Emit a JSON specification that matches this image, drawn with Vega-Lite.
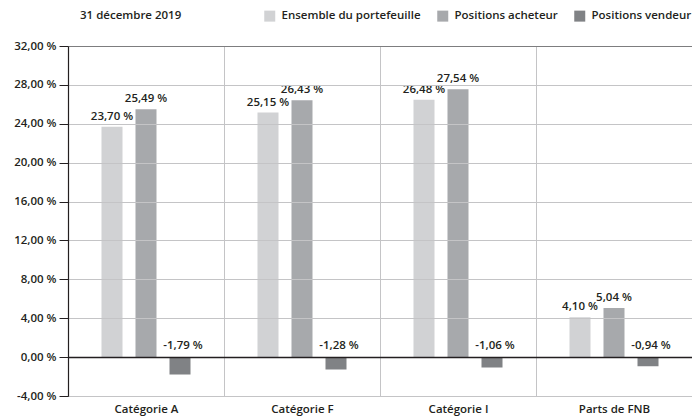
{
  "$schema": "https://vega.github.io/schema/vega-lite/v6.json",
  "width": 624,
  "height": 350,
  "autosize": {"type": "none"},
  "padding": {"left": 68, "top": 46, "right": 0, "bottom": 23},
  "background": "white",
  "config": {
    "view": {"stroke": null},
    "font": "Open Sans",
    "text": {"font": "Open Sans"}
  },
  "data": {
    "values": [
      {"cat": "Catégorie A", "series": "Ensemble du portefeuille", "value": 23.70},
      {"cat": "Catégorie A", "series": "Positions acheteur", "value": 25.49},
      {"cat": "Catégorie A", "series": "Positions vendeur", "value": -1.79},
      {"cat": "Catégorie F", "series": "Ensemble du portefeuille", "value": 25.15},
      {"cat": "Catégorie F", "series": "Positions acheteur", "value": 26.43},
      {"cat": "Catégorie F", "series": "Positions vendeur", "value": -1.28},
      {"cat": "Catégorie I", "series": "Ensemble du portefeuille", "value": 26.48},
      {"cat": "Catégorie I", "series": "Positions acheteur", "value": 27.54},
      {"cat": "Catégorie I", "series": "Positions vendeur", "value": -1.06},
      {"cat": "Parts de FNB", "series": "Ensemble du portefeuille", "value": 4.10},
      {"cat": "Parts de FNB", "series": "Positions acheteur", "value": 5.04},
      {"cat": "Parts de FNB", "series": "Positions vendeur", "value": -0.94}
    ]
  },
  "transform": [
    {"calculate": "replace(replace(format(datum.value, '.2f'), '.', ','), '\u2212', '-') + ' %'", "as": "label"}
  ],
  "encoding": {
    "x": {
      "field": "cat",
      "type": "nominal",
      "sort": null,
      "scale": {"paddingInner": 0, "paddingOuter": 0},
      "axis": {
        "title": null,
        "labelAngle": 0,
        "ticks": false,
        "tickBand": "extent",
        "grid": true,
        "gridColor": "#c4c4c6",
        "gridWidth": 1,
        "domain": true,
        "domainColor": "#58585a",
        "domainWidth": 1.2,
        "labelFont": "Open Sans",
        "labelFontWeight": 600,
        "labelFontSize": 11.5,
        "labelColor": "#231f20",
        "labelPadding": 7
      }
    },
    "xOffset": {
      "field": "series",
      "type": "nominal",
      "sort": ["Ensemble du portefeuille", "Positions acheteur", "Positions vendeur"],
      "scale": {"paddingInner": 0.382, "paddingOuter": 0.985}
    }
  },
  "layer": [
    {
      "mark": {"type": "bar"},
      "encoding": {
        "y": {
          "field": "value",
          "type": "quantitative",
          "scale": {"domain": [-4, 32], "nice": false, "zero": false},
          "axis": {
            "title": null,
            "values": [-4, 0, 4, 8, 12, 16, 20, 24, 28, 32],
            "tickCount": 20,
            "labelOverlap": false,
            "labelExpr": "replace(replace(format(datum.value, '.2f'), '.', ','), '\u2212', '-') + ' %'",
            "labelFont": "Open Sans",
            "labelFontWeight": 600,
            "labelFontSize": 11.5,
            "labelColor": "#231f20",
            "labelPadding": 3,
            "tickSize": 9,
            "tickColor": "#231f20",
            "domainColor": "#231f20",
            "domainWidth": 1.2,
            "grid": true,
            "gridColor": {"condition": [{"test": "datum.value === 32", "value": "#7d7d7f"}, {"test": "datum.value === 0", "value": "#231f20"}], "value": "#c4c4c6"},
            "gridWidth": {"condition": {"test": "datum.value === 0", "value": 1.3}, "value": 1},
            "zindex": 1
          }
        },
        "color": {
          "field": "series",
          "type": "nominal",
          "sort": ["Ensemble du portefeuille", "Positions acheteur", "Positions vendeur"],
          "scale": {"range": ["#d1d2d4", "#a7a9ac", "#808285"]},
          "legend": {
            "title": "31 décembre 2019",
            "titleOrient": "left",
            "titlePadding": 82,
            "titleFont": "Open Sans",
            "titleFontWeight": 600,
            "titleFontSize": 11.5,
            "titleColor": "#231f20",
            "titleBaseline": "middle",
            "titleAnchor": "middle",
            "orient": "none",
            "direction": "horizontal",
            "legendX": 12,
            "legendY": -36,
            "symbolType": "square",
            "symbolSize": 121,
            "symbolStrokeWidth": 0,
            "labelFont": "Open Sans",
            "labelFontWeight": 600,
            "labelFontSize": 11.5,
            "labelColor": "#231f20",
            "labelOffset": 6,
            "columnPadding": 16
          }
        }
      }
    },
    {
      "transform": [{"filter": "datum.value > 0"}],
      "mark": {"type": "text", "baseline": "bottom", "dy": -5, "fontSize": 11.5, "fontWeight": 600, "color": "#231f20", "font": "Open Sans"},
      "encoding": {
        "y": {"field": "value", "type": "quantitative"},
        "text": {"field": "label"}
      }
    },
    {
      "transform": [{"filter": "datum.value < 0"}],
      "mark": {"type": "text", "baseline": "bottom", "dy": -6, "dx": 3, "fontSize": 11.5, "fontWeight": 600, "color": "#231f20", "font": "Open Sans"},
      "encoding": {
        "y": {"datum": 0, "type": "quantitative"},
        "text": {"field": "label"}
      }
    }
  ]
}
